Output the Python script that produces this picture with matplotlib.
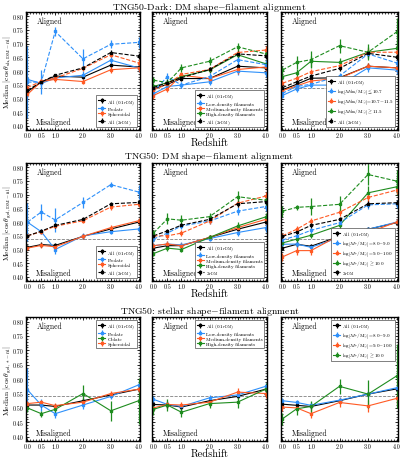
import matplotlib
matplotlib.use("Agg")
import matplotlib.pyplot as plt
from matplotlib.ticker import AutoMinorLocator, MultipleLocator

plt.rcParams['font.family'] = 'serif'
plt.rcParams['font.serif'] = ['cmr10', 'DejaVu Serif']
plt.rcParams['mathtext.fontset'] = 'cm'
plt.rcParams['axes.formatter.use_mathtext'] = True

BLACK = 'black'
BLUE = '#2e90fa'
ORANGE = '#ff5a24'
GREEN = '#1e8c1e'

z = [0.0, 0.5, 1.0, 2.0, 3.0, 4.0]
z_ticks = ['0.0', '0.5', '1.0', '2.0', '3.0', '4.0']
random_level = 0.54

# ---- row 1: TNG50-Dark, DM shape ----
a_all_in = [0.525, 0.56, 0.582, 0.578, 0.622, 0.615]
a_all_in_err = [0.01, 0.008, 0.006, 0.008, 0.008, 0.01]
a_pro_in = [0.57, 0.555, 0.575, 0.585, 0.64, 0.612]
a_pro_in_err = [0.01, 0.015, 0.012, 0.015, 0.015, 0.015]
a_sph_in = [0.515, 0.562, 0.57, 0.562, 0.605, 0.612]
a_sph_in_err = [0.012, 0.01, 0.01, 0.01, 0.012, 0.015]
a_pro_out = [0.56, 0.56, 0.745, 0.645, 0.698, 0.705]
a_pro_out_err = [0.13, 0.045, 0.015, 0.035, 0.015, 0.02]
a_sph_out = [0.54, 0.563, 0.575, 0.61, 0.66, 0.63]
a_sph_out_err = [0.01, 0.008, 0.008, 0.008, 0.01, 0.015]
a_all_out = [0.53, 0.56, 0.585, 0.612, 0.668, 0.655]
a_all_out_err = [0.008, 0.006, 0.006, 0.006, 0.008, 0.01]

b_all_in = [0.535, 0.552, 0.573, 0.573, 0.618, 0.612]
b_all_in_err = [0.01, 0.008, 0.008, 0.008, 0.01, 0.01]
b_low_in = [0.517, 0.544, 0.549, 0.561, 0.60, 0.594]
b_low_in_err = [0.012, 0.01, 0.01, 0.012, 0.015, 0.015]
b_med_in = [0.511, 0.535, 0.585, 0.573, 0.606, 0.615]
b_med_in_err = [0.012, 0.01, 0.01, 0.012, 0.015, 0.015]
b_high_in = [0.544, 0.558, 0.58, 0.604, 0.66, 0.627]
b_high_in_err = [0.012, 0.01, 0.012, 0.012, 0.015, 0.015]
b_low_out = [0.525, 0.58, 0.549, 0.58, 0.642, 0.624]
b_low_out_err = [0.01, 0.015, 0.01, 0.012, 0.015, 0.015]
b_med_out = [0.532, 0.552, 0.588, 0.606, 0.668, 0.677]
b_med_out_err = [0.01, 0.01, 0.01, 0.01, 0.012, 0.015]
b_high_out = [0.567, 0.558, 0.612, 0.636, 0.689, 0.663]
b_high_out_err = [0.012, 0.012, 0.015, 0.015, 0.015, 0.015]
b_all_out = [0.54, 0.558, 0.576, 0.606, 0.663, 0.656]
b_all_out_err = [0.008, 0.008, 0.008, 0.008, 0.01, 0.01]

c_all_in = [0.532, 0.552, 0.574, 0.576, 0.618, 0.612]
c_all_in_err = [0.01, 0.008, 0.008, 0.008, 0.01, 0.01]
c_low_in = [0.511, 0.535, 0.549, 0.549, 0.612, 0.604]
c_low_in_err = [0.01, 0.01, 0.01, 0.01, 0.015, 0.015]
c_mid_in = [0.529, 0.546, 0.564, 0.574, 0.618, 0.612]
c_mid_in_err = [0.01, 0.01, 0.01, 0.01, 0.012, 0.015]
c_high_in = [0.58, 0.594, 0.636, 0.632, 0.669, 0.683]
c_high_in_err = [0.012, 0.015, 0.02, 0.015, 0.02, 0.025]
c_low_out = [0.519, 0.544, 0.552, 0.582, 0.663, 0.63]
c_low_out_err = [0.01, 0.01, 0.01, 0.012, 0.015, 0.015]
c_mid_out = [0.556, 0.574, 0.598, 0.62, 0.669, 0.669]
c_mid_out_err = [0.01, 0.01, 0.01, 0.012, 0.015, 0.015]
c_high_out = [0.604, 0.632, 0.642, 0.693, 0.669, 0.743]
c_high_out_err = [0.015, 0.025, 0.03, 0.025, 0.03, 0.05]
c_all_out = [0.54, 0.561, 0.582, 0.61, 0.665, 0.651]
c_all_out_err = [0.008, 0.008, 0.008, 0.008, 0.01, 0.01]

# ---- row 2: TNG50, DM shape ----
d_all_in = [0.508, 0.518, 0.515, 0.548, 0.575, 0.60]
d_all_in_err = [0.008, 0.008, 0.008, 0.008, 0.008, 0.008]
d_pro_in = [0.60, 0.565, 0.50, 0.55, 0.565, 0.575]
d_pro_in_err = [0.01, 0.01, 0.015, 0.012, 0.01, 0.01]
d_sph_in = [0.505, 0.515, 0.51, 0.548, 0.58, 0.605]
d_sph_in_err = [0.008, 0.008, 0.008, 0.008, 0.01, 0.01]
d_pro_out = [0.60, 0.637, 0.608, 0.672, 0.737, 0.71]
d_pro_out_err = [0.07, 0.03, 0.045, 0.02, 0.01, 0.025]
d_sph_out = [0.55, 0.565, 0.585, 0.605, 0.655, 0.665]
d_sph_out_err = [0.008, 0.008, 0.008, 0.008, 0.01, 0.01]
d_all_out = [0.55, 0.567, 0.588, 0.61, 0.667, 0.672]
d_all_out_err = [0.008, 0.008, 0.008, 0.008, 0.008, 0.008]

e_all_in = [0.505, 0.514, 0.514, 0.544, 0.574, 0.60]
e_all_in_err = [0.008, 0.008, 0.008, 0.008, 0.01, 0.01]
e_low_in = [0.514, 0.52, 0.517, 0.54, 0.562, 0.58]
e_low_in_err = [0.01, 0.01, 0.01, 0.01, 0.012, 0.015]
e_med_in = [0.514, 0.52, 0.514, 0.544, 0.58, 0.61]
e_med_in_err = [0.01, 0.01, 0.01, 0.01, 0.012, 0.015]
e_high_in = [0.485, 0.505, 0.50, 0.544, 0.586, 0.619]
e_high_in_err = [0.01, 0.01, 0.01, 0.01, 0.015, 0.015]
e_low_out = [0.538, 0.56, 0.586, 0.604, 0.64, 0.657]
e_low_out_err = [0.01, 0.01, 0.012, 0.012, 0.015, 0.015]
e_med_out = [0.55, 0.55, 0.56, 0.604, 0.669, 0.695]
e_med_out_err = [0.01, 0.01, 0.012, 0.012, 0.015, 0.015]
e_high_out = [0.56, 0.612, 0.607, 0.62, 0.693, 0.68]
e_high_out_err = [0.012, 0.02, 0.02, 0.015, 0.02, 0.02]
e_all_out = [0.55, 0.568, 0.589, 0.61, 0.667, 0.675]
e_all_out_err = [0.008, 0.008, 0.008, 0.008, 0.01, 0.01]

f_all_in = [0.505, 0.519, 0.512, 0.548, 0.574, 0.598]
f_all_in_err = [0.008, 0.008, 0.008, 0.008, 0.008, 0.008]
f_low_in = [0.519, 0.52, 0.508, 0.544, 0.574, 0.60]
f_low_in_err = [0.01, 0.01, 0.01, 0.01, 0.01, 0.01]
f_mid_in = [0.473, 0.496, 0.496, 0.552, 0.562, 0.60]
f_mid_in_err = [0.015, 0.015, 0.015, 0.015, 0.015, 0.012]
f_high_in = [0.524, 0.538, 0.552, 0.588, 0.707, 0.729]
f_high_in_err = [0.01, 0.01, 0.01, 0.015, 0.025, 0.03]
f_low_out = [0.535, 0.55, 0.57, 0.598, 0.663, 0.667]
f_low_out_err = [0.01, 0.01, 0.01, 0.012, 0.015, 0.015]
f_mid_out = [0.55, 0.574, 0.604, 0.636, 0.69, 0.717]
f_mid_out_err = [0.01, 0.012, 0.012, 0.015, 0.015, 0.015]
f_high_out = [0.64, 0.654, 0.657, 0.665, 0.774, 0.75]
f_high_out_err = [0.02, 0.01, 0.03, 0.03, 0.04, 0.04]
f_all_out = [0.548, 0.564, 0.588, 0.61, 0.667, 0.671]
f_all_out_err = [0.008, 0.008, 0.008, 0.008, 0.01, 0.01]

# ---- row 3: TNG50, stellar shape ----
g_all = [0.51, 0.51, 0.505, 0.525, 0.545, 0.565]
g_all_err = [0.008, 0.008, 0.008, 0.008, 0.008, 0.008]
g_pro = [0.563, 0.51, 0.48, 0.51, 0.54, 0.58]
g_pro_err = [0.075, 0.02, 0.015, 0.015, 0.01, 0.01]
g_obl = [0.50, 0.48, 0.495, 0.55, 0.49, 0.525]
g_obl_err = [0.015, 0.01, 0.015, 0.03, 0.035, 0.08]
g_sph = [0.515, 0.52, 0.508, 0.52, 0.55, 0.565]
g_sph_err = [0.008, 0.008, 0.008, 0.008, 0.01, 0.01]

h_all = [0.512, 0.51, 0.503, 0.525, 0.54, 0.565]
h_all_err = [0.01, 0.01, 0.01, 0.01, 0.01, 0.01]
h_low = [0.53, 0.512, 0.505, 0.535, 0.545, 0.575]
h_low_err = [0.01, 0.01, 0.01, 0.01, 0.012, 0.012]
h_med = [0.50, 0.512, 0.51, 0.52, 0.555, 0.55]
h_med_err = [0.012, 0.012, 0.012, 0.012, 0.015, 0.015]
h_high = [0.495, 0.51, 0.485, 0.515, 0.52, 0.565]
h_high_err = [0.02, 0.02, 0.015, 0.015, 0.02, 0.02]

i_all = [0.513, 0.509, 0.505, 0.525, 0.548, 0.566]
i_all_err = [0.008, 0.008, 0.008, 0.008, 0.008, 0.008]
i_low = [0.525, 0.519, 0.509, 0.527, 0.548, 0.57]
i_low_err = [0.01, 0.01, 0.01, 0.01, 0.01, 0.01]
i_mid = [0.503, 0.50, 0.48, 0.519, 0.507, 0.533]
i_mid_err = [0.015, 0.012, 0.015, 0.015, 0.02, 0.02]
i_high = [0.462, 0.497, 0.505, 0.575, 0.548, 0.611]
i_high_err = [0.02, 0.02, 0.02, 0.025, 0.05, 0.11]

r_in = r'All ($0.1r_{\rm DM}$)'
r_out = r'All ($2r_{\rm DM}$)'
r_out2 = r'$2r_{\rm DM}$'
dm_bins = [r'$\log[M_{\rm dm}/{\rm M}_{\odot}]\leq10.7$',
           r'$\log[M_{\rm dm}/{\rm M}_{\odot}]$=10.7$-$11.5',
           r'$\log[M_{\rm dm}/{\rm M}_{\odot}]\geq11.5$']
st_bins = [r'$\log[M_{*}/{\rm M}_{\odot}]$=8.0$-$9.0',
           r'$\log[M_{*}/{\rm M}_{\odot}]$=9.0$-$10.0',
           r'$\log[M_{*}/{\rm M}_{\odot}]\geq10.0$']
fil_bins = ['Low-density filaments', 'Medium-density filaments', 'High-density filaments']

W, H = 400, 460
fig = plt.figure(figsize=(W / 100, H / 100), dpi=100)

col_px = [(26, 140), (152, 267), (281, 398)]
row_px = [(13, 131), (164, 282), (318, 442)]
ylabels = [r'Median $|\cos\theta_{\rm sh,DM-fil}|$',
           r'Median $|\cos\theta_{\rm gal,DM-fil}|$',
           r'Median $|\cos\theta_{\rm gal,*-fil}|$']
titles = [r'TNG50-Dark: DM shape$-$filament alignment',
          r'TNG50: DM shape$-$filament alignment',
          r'TNG50: stellar shape$-$filament alignment']
title_y = [7, 157, 312]

panels = [
    [  # row 1
        [(a_all_in, a_all_in_err, BLACK, '-', r_in), (a_pro_in, a_pro_in_err, BLUE, '-', 'Prolate'),
         (a_sph_in, a_sph_in_err, ORANGE, '-', 'Spheroidal'), (a_pro_out, a_pro_out_err, BLUE, '--', None),
         (a_sph_out, a_sph_out_err, ORANGE, '--', None), (a_all_out, a_all_out_err, BLACK, '--', r_out)],
        [(b_all_in, b_all_in_err, BLACK, '-', r_in), (b_low_in, b_low_in_err, BLUE, '-', fil_bins[0]),
         (b_med_in, b_med_in_err, ORANGE, '-', fil_bins[1]), (b_high_in, b_high_in_err, GREEN, '-', fil_bins[2]),
         (b_low_out, b_low_out_err, BLUE, '--', None), (b_med_out, b_med_out_err, ORANGE, '--', None),
         (b_high_out, b_high_out_err, GREEN, '--', None), (b_all_out, b_all_out_err, BLACK, '--', r_out)],
        [(c_all_in, c_all_in_err, BLACK, '-', r_in), (c_low_in, c_low_in_err, BLUE, '-', dm_bins[0]),
         (c_mid_in, c_mid_in_err, ORANGE, '-', dm_bins[1]), (c_high_in, c_high_in_err, GREEN, '-', dm_bins[2]),
         (c_low_out, c_low_out_err, BLUE, '--', None), (c_mid_out, c_mid_out_err, ORANGE, '--', None),
         (c_high_out, c_high_out_err, GREEN, '--', None), (c_all_out, c_all_out_err, BLACK, '--', r_out)],
    ],
    [  # row 2
        [(d_all_in, d_all_in_err, BLACK, '-', r_in), (d_pro_in, d_pro_in_err, BLUE, '-', 'Prolate'),
         (d_sph_in, d_sph_in_err, ORANGE, '-', 'Spheroidal'), (d_pro_out, d_pro_out_err, BLUE, '--', None),
         (d_sph_out, d_sph_out_err, ORANGE, '--', None), (d_all_out, d_all_out_err, BLACK, '--', r_out)],
        [(e_all_in, e_all_in_err, BLACK, '-', r_in), (e_low_in, e_low_in_err, BLUE, '-', fil_bins[0]),
         (e_med_in, e_med_in_err, ORANGE, '-', fil_bins[1]), (e_high_in, e_high_in_err, GREEN, '-', fil_bins[2]),
         (e_low_out, e_low_out_err, BLUE, '--', None), (e_med_out, e_med_out_err, ORANGE, '--', None),
         (e_high_out, e_high_out_err, GREEN, '--', None), (e_all_out, e_all_out_err, BLACK, '--', r_out2)],
        [(f_all_in, f_all_in_err, BLACK, '-', r_in), (f_low_in, f_low_in_err, BLUE, '-', st_bins[0]),
         (f_mid_in, f_mid_in_err, ORANGE, '-', st_bins[1]), (f_high_in, f_high_in_err, GREEN, '-', st_bins[2]),
         (f_low_out, f_low_out_err, BLUE, '--', None), (f_mid_out, f_mid_out_err, ORANGE, '--', None),
         (f_high_out, f_high_out_err, GREEN, '--', None), (f_all_out, f_all_out_err, BLACK, '--', r_out2)],
    ],
    [  # row 3
        [(g_all, g_all_err, BLACK, '-', r_in), (g_pro, g_pro_err, BLUE, '-', 'Prolate'),
         (g_obl, g_obl_err, GREEN, '-', 'Oblate'), (g_sph, g_sph_err, ORANGE, '-', 'Spheroidal')],
        [(h_all, h_all_err, BLACK, '-', r_in), (h_low, h_low_err, BLUE, '-', fil_bins[0]),
         (h_med, h_med_err, ORANGE, '-', fil_bins[1]), (h_high, h_high_err, GREEN, '-', fil_bins[2])],
        [(i_all, i_all_err, BLACK, '-', r_in), (i_low, i_low_err, BLUE, '-', st_bins[0]),
         (i_mid, i_mid_err, ORANGE, '-', st_bins[1]), (i_high, i_high_err, GREEN, '-', st_bins[2])],
    ],
]

for r in range(3):
    top, bot = row_px[r]
    for c in range(3):
        left, right = col_px[c]
        ax = fig.add_axes([left / W, 1 - bot / H, (right - left) / W, (bot - top) / H])
        handles, labels = [], []
        for vals, errs, col, ls, lab in panels[r][c]:
            h = ax.errorbar(z, vals, yerr=errs, color=col, ls=ls, lw=0.8, elinewidth=0.9,
                            marker='s', ms=1.6, capsize=0)
            if lab is not None:
                handles.append(h)
                labels.append(lab)
        ax.axhline(random_level, color='gray', ls='--', lw=0.6, zorder=0)
        ax.set_xlim(-0.05, 4.05)
        ax.set_ylim(0.385, 0.816)
        ax.set_xticks(z)
        ax.set_xticklabels(z_ticks)
        ax.yaxis.set_major_locator(MultipleLocator(0.05))
        ax.yaxis.set_minor_locator(AutoMinorLocator(5))
        ax.xaxis.set_minor_locator(MultipleLocator(0.1))
        ax.tick_params(which='both', direction='in', top=True, right=True, labelsize=4.4, pad=1.5)
        ax.tick_params(which='major', length=2.5, width=0.6)
        ax.tick_params(which='minor', length=1.4, width=0.5)
        for sp in ax.spines.values():
            sp.set_linewidth(1.0)
        if c == 0:
            ax.set_yticks([0.40, 0.45, 0.50, 0.55, 0.60, 0.65, 0.70, 0.75, 0.80])
            ax.set_yticklabels(['0.40', '0.45', '0.50', '0.55', '0.60', '0.65', '0.70', '0.75', '0.80'])
            ax.set_ylabel(ylabels[r], fontsize=5.4)
            ax.yaxis.set_label_coords(-0.115, 0.5)
        else:
            ax.set_yticklabels([])
        if c == 1:
            ax.set_xlabel('Redshift', fontsize=7.5, labelpad=0)
        ax.text(0.09, 0.91, 'Aligned', transform=ax.transAxes, fontsize=5.5)
        ax.text(0.09, 0.05, 'Misaligned', transform=ax.transAxes, fontsize=5.5)
        if r < 2:
            loc, anchor = 'lower right', (0.985, 0.015)
        else:
            loc, anchor = 'upper right', (0.985, 0.985)
        leg = ax.legend(handles, labels, loc=loc, bbox_to_anchor=anchor, fontsize=3.6,
                        handlelength=1.5, handletextpad=0.4, borderpad=0.3, labelspacing=0.15,
                        borderaxespad=0.2, fancybox=False, framealpha=1)
        leg.get_frame().set_edgecolor('0.3')
        leg.get_frame().set_linewidth(0.5)
    fig.text((152 + 267) / 2 / W, 1 - title_y[r] / H, titles[r], ha='center', va='center', fontsize=7)

fig.savefig('out.png', dpi=100)
